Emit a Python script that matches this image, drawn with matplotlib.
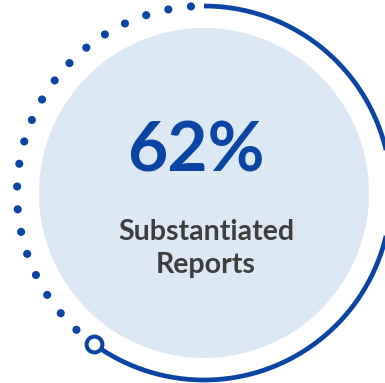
import numpy as np
import matplotlib
matplotlib.use("Agg")
import matplotlib.pyplot as plt
from matplotlib.patches import Circle

# ---- data ----
value_label = "62%"
caption_lines = ["Substantiated", "Reports"]
solid_share = 60.0      # share of the ring drawn as solid arc
n_dots = 20             # dots on the remaining part of the ring
dot_step_deg = 7.0

# ---- style ----
DARK = "#0a45a3"
FILL = "#dde8f5"
GRAY = "#3e3e3e"

W, H, DPI = 385, 383, 100
fig = plt.figure(figsize=(W / DPI, H / DPI), dpi=DPI)
ax = fig.add_axes([0, 0, 1, 1])
ax.set_xlim(0, W)
ax.set_ylim(H, 0)
ax.set_aspect("equal")
ax.axis("off")

cx, cy = 204, 193
r_in = 165
r_out = 187

ax.add_patch(Circle((cx, cy), r_in, facecolor=FILL, edgecolor="none", zorder=1))

def pt(deg, r):
    a = np.deg2rad(deg)
    return cx + r * np.cos(a), cy - r * np.sin(a)

# solid arc clockwise from the top
start = 90.0
end = start - solid_share / 100 * 360
th = np.linspace(start, end, 400)
x, y = pt(th, r_out)
ax.plot(x, y, color=DARK, lw=3.4, solid_capstyle="butt", zorder=3)

# dotted remainder
dot_angles = end + 360 - dot_step_deg * np.arange(1, n_dots + 1)
dx, dy = pt(dot_angles, r_out)
ax.scatter(dx, dy, s=34, color=DARK, edgecolors="none", zorder=3)

# end marker
mx, my = pt(end, r_out)
ax.scatter([mx], [my], s=130, facecolor="white", edgecolor=DARK, linewidths=2.9, zorder=4)

ax.text(196, 172, value_label, ha="center", va="baseline", fontsize=50,
        fontweight="bold", family="Lato", color=DARK, zorder=5)
ax.text(206, 240, caption_lines[0], ha="center", va="baseline", fontsize=20.5,
        fontweight="bold", family="Lato", color=GRAY, zorder=5)
ax.text(206, 273, caption_lines[1], ha="center", va="baseline", fontsize=20.5,
        fontweight="bold", family="Lato", color=GRAY, zorder=5)

fig.savefig("out.png", dpi=DPI)
